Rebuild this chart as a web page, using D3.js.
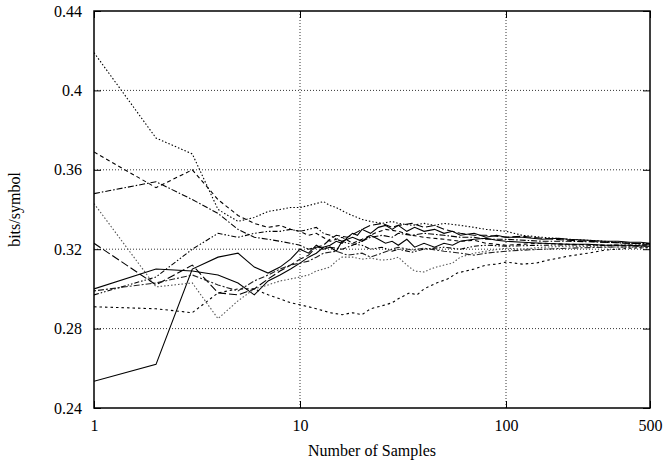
<!DOCTYPE html>
<html>
<head>
<meta charset="utf-8">
<script src="https://cdn.jsdelivr.net/npm/d3@7"></script>
<style>
  body { margin: 0; background: #fff; }
  text { font-family: "Liberation Serif", "Times New Roman", serif; font-size: 16px; fill: #000; }
</style>
</head>
<body>
<div id="chart"></div>
<script>

// tick values
var xTicks = [1, 10, 100, 500];
var yTicks = [0.24, 0.28, 0.32, 0.36, 0.4, 0.44];
var yGrid = [0.28, 0.32, 0.36, 0.4];
var xGrid = [10, 100];

// series, [samples, bits/symbol]
var s1 = [[1,.300],[2,.310],[3,.309],[4,.307],[5,.303],[6,.297],[7,.304],[8,.307],[9,.310],[10,.313],[11,.316],[12,.318],[13,.321],[14,.322],[15,.324],[16,.323],[17,.326],[18,.328],[19,.327],[20,.330],[22,.328],[24,.331],[26,.332],[28,.330],[30,.332],[33,.329],[36,.331],[40,.329],[45,.330],[50,.328],[55,.329],[60,.327],[70,.328],[80,.326],[90,.327],[100,.326],[120,.326],[150,.325],[180,.3255],[200,.325],[250,.3245],[300,.324],[350,.324],[400,.3235],[450,.3235],[500,.323]];
var s2 = [[1,.2535],[2,.262],[3,.310],[4,.316],[5,.318],[6,.311],[7,.308],[8,.311],[9,.315],[10,.320],[11,.318],[12,.322],[13,.320],[14,.321],[15,.319],[16,.324],[17,.325],[18,.326],[20,.324],[22,.327],[24,.325],[26,.323],[28,.324],[30,.322],[33,.325],[36,.321],[40,.323],[45,.321],[50,.323],[55,.322],[60,.324],[70,.325],[80,.3255],[90,.3245],[100,.324],[120,.3235],[150,.323],[200,.3225],[250,.3225],[300,.322],[400,.322],[500,.3215]];
var s3 = [[1,.419],[2,.376],[3,.368],[4,.340],[5,.334],[6,.336],[7,.339],[8,.340],[9,.341],[10,.341],[11,.342],[12,.343],[13,.344],[14,.342],[15,.341],[17,.338],[20,.335],[22,.334],[25,.333],[28,.334],[30,.333],[35,.332],[40,.333],[45,.332],[50,.333],[60,.332],[70,.331],[80,.330],[100,.329],[120,.327],[150,.326],[200,.325],[250,.3245],[300,.324],[400,.323],[500,.3225]];
var s4 = [[1,.369],[2,.351],[3,.360],[4,.345],[5,.337],[6,.333],[7,.331],[8,.332],[9,.330],[10,.329],[11,.327],[12,.328],[14,.324],[16,.326],[18,.323],[20,.325],[23,.328],[26,.330],[30,.329],[35,.327],[40,.326],[50,.325],[60,.324],[70,.3245],[80,.323],[100,.322],[120,.3225],[150,.323],[200,.3225],[300,.322],[400,.3218],[500,.3215]];
var s5 = [[1,.348],[2,.354],[3,.345],[4,.338],[5,.330],[6,.326],[7,.325],[8,.324],[9,.323],[10,.322],[11,.320],[12,.321],[14,.321],[16,.320],[18,.322],[20,.324],[22,.326],[25,.327],[28,.326],[30,.328],[35,.327],[40,.328],[50,.327],[60,.326],[70,.326],[80,.325],[100,.325],[150,.324],[200,.324],[300,.3235],[400,.323],[500,.3228]];
var s6 = [[1,.343],[2,.301],[3,.303],[4,.285],[5,.294],[6,.300],[7,.302],[8,.304],[9,.305],[10,.306],[11,.307],[12,.309],[13,.310],[14,.311],[15,.314],[16,.316],[18,.316],[20,.315],[22,.3155],[25,.3145],[28,.315],[30,.316],[33,.312],[36,.309],[40,.3085],[43,.310],[46,.311],[50,.312],[55,.313],[60,.316],[70,.318],[80,.319],[100,.3205],[120,.320],[150,.321],[200,.3215],[300,.3212],[400,.321],[500,.321]];
var s7 = [[1,.323],[2,.302],[3,.312],[4,.298],[5,.297],[6,.300],[7,.305],[8,.309],[9,.312],[10,.315],[11,.317],[12,.321],[13,.322],[14,.325],[15,.327],[17,.326],[20,.330],[22,.332],[25,.333],[28,.331],[30,.332],[35,.333],[40,.331],[45,.332],[50,.330],[60,.328],[70,.327],[80,.327],[100,.326],[120,.3265],[150,.3255],[200,.3245],[250,.324],[300,.3235],[400,.323],[500,.3225]];
var s8 = [[1,.297],[2,.306],[3,.320],[4,.328],[5,.326],[6,.328],[7,.329],[8,.329],[9,.330],[10,.329],[11,.330],[12,.331],[13,.328],[14,.327],[15,.325],[17,.323],[20,.322],[22,.320],[25,.321],[28,.319],[30,.320],[35,.3185],[40,.320],[50,.321],[60,.320],[70,.3215],[80,.322],[100,.3215],[150,.322],[200,.3222],[300,.322],[500,.3222]];
var s9 = [[1,.291],[2,.290],[3,.288],[4,.298],[5,.300],[6,.300],[7,.297],[8,.295],[9,.293],[10,.292],[11,.291],[12,.290],[13,.289],[14,.288],[16,.287],[18,.288],[20,.287],[22,.290],[24,.291],[26,.292],[28,.293],[30,.295],[34,.298],[37,.297],[40,.300],[46,.303],[52,.305],[58,.308],[70,.310],[80,.312],[90,.3125],[100,.3135],[120,.3125],[140,.313],[160,.3145],[180,.3155],[200,.3165],[250,.318],[300,.3195],[400,.3205],[500,.3208]];
var s10 = [[1,.299],[2,.303],[3,.307],[4,.302],[5,.299],[6,.304],[7,.307],[8,.310],[9,.312],[10,.313],[11,.314],[12,.316],[13,.318],[15,.319],[17,.317],[20,.318],[22,.316],[25,.318],[28,.320],[30,.321],[35,.3195],[40,.3205],[50,.319],[60,.318],[70,.317],[80,.318],[100,.319],[120,.3195],[150,.320],[200,.3205],[300,.321],[400,.3212],[500,.3215]];

var series = [s1, s2, s3, s4, s5, s6, s7, s8, s9, s10];
var dashes = ['', '', '1.5,2', '4,3', '6,2,1.5,2', '1.5,2', '8,3', '5,2,1.5,2,1.5,2', '2.5,3', '2,2,6,2'];
var colors = ['#000', '#000', '#000', '#000', '#000', '#555', '#000', '#000', '#000', '#222'];

var chart_width = 666, chart_height = 464;
var pLeft = 94, pRight = 650, pTop = 11, pBottom = 408;

var svg = d3.select('#chart').append('svg')
  .attr('width', chart_width)
  .attr('height', chart_height);

var x = d3.scaleLog().domain([1, 500]).range([pLeft, pRight]);
var y = d3.scaleLinear().domain([0.24, 0.44]).range([pBottom, pTop]);

svg.append('defs').append('clipPath').attr('id', 'clip')
  .append('rect')
  .attr('x', pLeft).attr('y', pTop)
  .attr('width', pRight - pLeft).attr('height', pBottom - pTop);

// grid
svg.selectAll('.hgrid').data(yGrid).enter().append('line')
  .attr('x1', pLeft).attr('x2', pRight)
  .attr('y1', function(d) { return y(d); })
  .attr('y2', function(d) { return y(d); })
  .attr('stroke', '#000').attr('stroke-width', 0.8)
  .attr('stroke-dasharray', '1,2');

svg.selectAll('.vgrid').data(xGrid).enter().append('line')
  .attr('y1', pTop).attr('y2', pBottom)
  .attr('x1', function(d) { return x(d); })
  .attr('x2', function(d) { return x(d); })
  .attr('stroke', '#000').attr('stroke-width', 0.8)
  .attr('stroke-dasharray', '1,2');

// axes
var fmt = function(d) { return String(+d.toFixed(2)); };

svg.append('g')
  .attr('transform', 'translate(' + pLeft + ',0)')
  .call(d3.axisLeft(y).tickValues(yTicks).tickFormat(fmt).tickSize(-7).tickPadding(12));

svg.append('g')
  .attr('transform', 'translate(' + pRight + ',0)')
  .call(d3.axisRight(y).tickValues(yTicks).tickFormat('').tickSize(-7));

svg.append('g')
  .attr('transform', 'translate(0,' + pBottom + ')')
  .call(d3.axisBottom(x).tickValues(xTicks).tickFormat(d3.format('d')).tickSize(-7).tickPadding(12));

svg.append('g')
  .attr('transform', 'translate(0,' + pTop + ')')
  .call(d3.axisTop(x).tickValues(xTicks).tickFormat('').tickSize(-7));

svg.selectAll('.domain').remove();
svg.selectAll('.tick line').attr('stroke', '#000');
svg.selectAll('.tick text').style('font-size', '16px')
  .style('font-family', '"Liberation Serif", "Times New Roman", serif');

// lines
var line = d3.line()
  .x(function(d) { return x(d[0]); })
  .y(function(d) { return y(d[1]); });

svg.append('g').attr('clip-path', 'url(#clip)')
  .selectAll('path').data(series).enter().append('path')
  .attr('d', line)
  .attr('fill', 'none')
  .attr('stroke', function(d, i) { return colors[i]; })
  .attr('stroke-width', 1.1)
  .attr('stroke-dasharray', function(d, i) { return dashes[i]; });

// frame
svg.append('rect')
  .attr('x', pLeft).attr('y', pTop)
  .attr('width', pRight - pLeft).attr('height', pBottom - pTop)
  .attr('fill', 'none').attr('stroke', '#000').attr('stroke-width', 1.5);

// labels
svg.append('text')
  .attr('x', (pLeft + pRight) / 2).attr('y', 456)
  .attr('text-anchor', 'middle')
  .text('Number of Samples');

svg.append('text')
  .attr('transform', 'translate(20,' + ((pTop + pBottom) / 2) + ') rotate(-90)')
  .attr('text-anchor', 'middle')
  .text('bits/symbol');

</script>
</body>
</html>
